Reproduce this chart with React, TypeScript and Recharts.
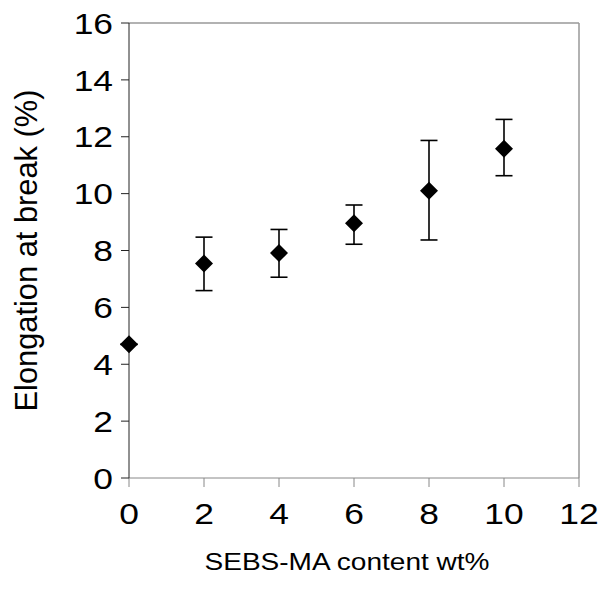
import { ScatterChart, Scatter, XAxis, YAxis, ErrorBar, ReferenceLine } from "recharts"

const sebsContent = [0, 2, 4, 6, 8, 10]
const elongation = [4.7, 7.54, 7.91, 8.96, 10.1, 11.58]
const elongationLow = [4.7, 6.59, 7.06, 8.22, 8.37, 10.63]
const elongationHigh = [4.7, 8.47, 8.74, 9.6, 11.87, 12.61]
const xTicks = [0, 2, 4, 6, 8, 10, 12]
const yTicks = [0, 2, 4, 6, 8, 10, 12, 14, 16]

const data = sebsContent.map((x, i) => ({
  x,
  y: elongation[i],
  err: [elongation[i] - elongationLow[i], elongationHigh[i] - elongation[i]],
}))

const FONT = "'Liberation Sans', Arial, sans-serif"

const Diamond = (props: any) => {
  const { cx, cy } = props
  const h = 9
  return <polygon points={`${cx},${cy - h} ${cx + h},${cy} ${cx},${cy + h} ${cx - h},${cy}`} fill="#000" />
}

const XTick = (props: any) => {
  const { x, y, payload } = props
  return (
    <text transform={`translate(${x},${y}) scale(1.18,1)`} textAnchor="middle" dy="0.71em" fontSize={30} fontFamily={FONT} fill="#000">
      {payload.value}
    </text>
  )
}

const YTick = (props: any) => {
  const { x, y, payload } = props
  return (
    <text transform={`translate(${x},${y}) scale(1.18,1)`} textAnchor="end" dy="0.355em" fontSize={30} fontFamily={FONT} fill="#000">
      {payload.value}
    </text>
  )
}

const XTitle = (props: any) => {
  const { viewBox } = props
  return (
    <text x={viewBox.x + viewBox.width / 2 - 7} y={570} textAnchor="middle" fontSize={24} fontFamily={FONT} fill="#000" textLength={285} lengthAdjust="spacingAndGlyphs">
      SEBS-MA content wt%
    </text>
  )
}

const YTitle = (props: any) => {
  const { viewBox } = props
  const cy = viewBox.y + viewBox.height / 2
  return (
    <text transform={`translate(37,${cy}) scale(1.18,1) rotate(-90)`} textAnchor="middle" fontSize={26} fontFamily={FONT} fill="#000" textLength={322} lengthAdjust="spacingAndGlyphs">
      Elongation at break (%)
    </text>
  )
}

export default function App() {
  return (
    <div style={{ position: "absolute", left: 0, top: 0, width: 600, height: 589, background: "#fff" }}>
      <ScatterChart width={600} height={589} margin={{ top: 23, right: 21, bottom: 35, left: 0 }} style={{ overflow: "visible" }}>
        <XAxis
          type="number"
          dataKey="x"
          domain={[0, 12]}
          ticks={xTicks}
          tick={<XTick />}
          tickSize={9}
          tickMargin={16}
          stroke="#888"
          height={76}
          label={<XTitle />}
        />
        <YAxis
          type="number"
          dataKey="y"
          domain={[0, 16]}
          ticks={yTicks}
          tick={<YTick />}
          tickSize={8}
          tickMargin={8}
          stroke="#222"
          width={129}
          label={<YTitle />}
        />
        <ReferenceLine y={16} stroke="#999" strokeWidth={1.5} />
        <ReferenceLine x={12} stroke="#999" strokeWidth={1.5} />
        <Scatter data={data} shape={<Diamond />} isAnimationActive={false}>
          <ErrorBar dataKey="err" direction="y" width={8.5} stroke="#000" strokeWidth={1.6} isAnimationActive={false} />
        </Scatter>
      </ScatterChart>
    </div>
  )
}
